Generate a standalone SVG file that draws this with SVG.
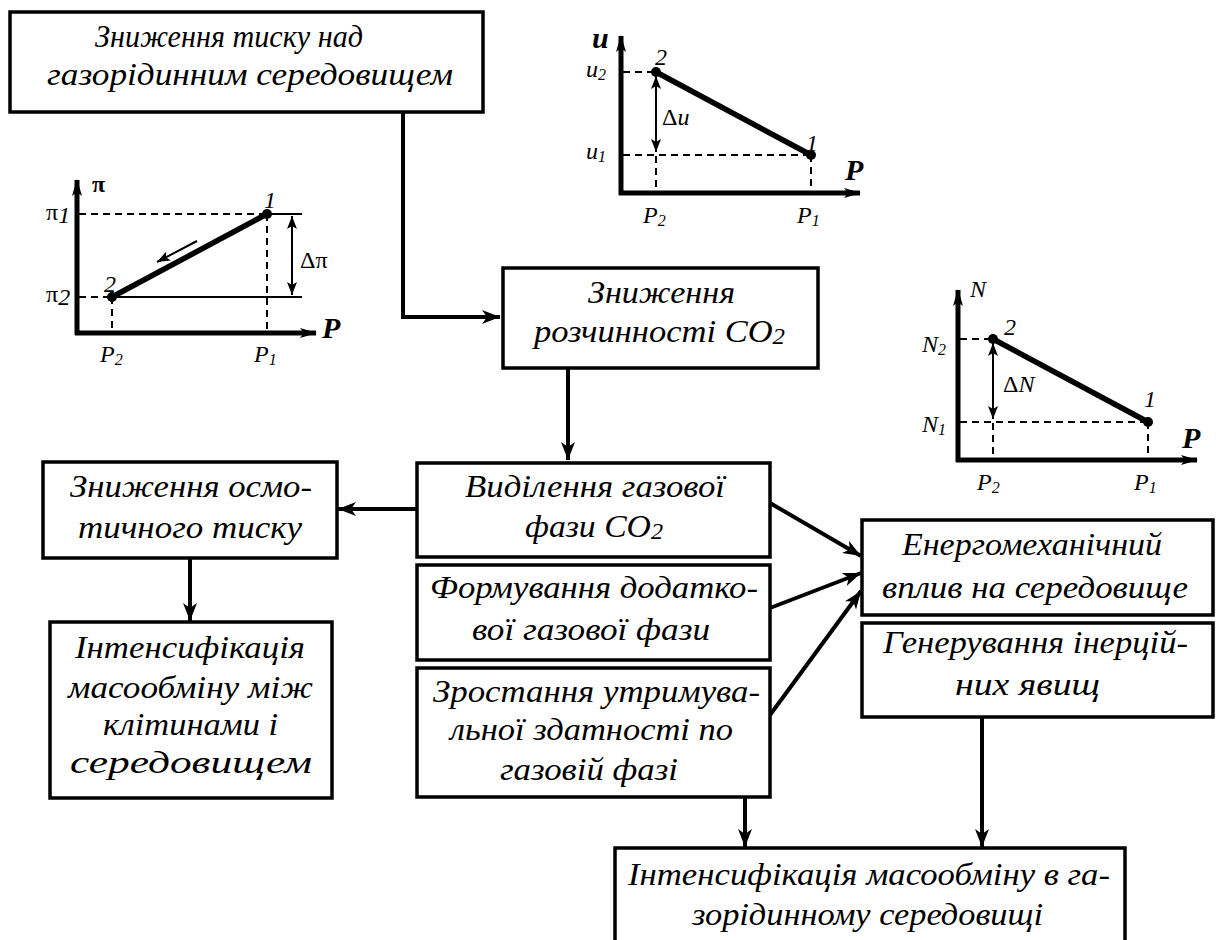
<svg xmlns="http://www.w3.org/2000/svg" width="1221" height="940" viewBox="0 0 1221 940" font-family="Liberation Serif, serif">
<defs>
<style>
.box{fill:#fff;stroke:#000;stroke-width:3.5}
.t{font-style:italic;font-size:32px;fill:#000}
.c{stroke:#000;stroke-width:4;fill:none}
.ax{stroke:#000;stroke-width:5;fill:none}
.dash{stroke:#000;stroke-width:2;stroke-dasharray:7,5;fill:none}
.thin{stroke:#000;stroke-width:2;fill:none}
.thick{stroke:#000;stroke-width:5.5;fill:none}
.lab{font-style:italic;font-size:24px;fill:#000}
.up{font-size:24px;fill:#000}
.bp{font-style:italic;font-weight:bold;font-size:30px;fill:#000}
</style>
<marker id="ah" markerUnits="userSpaceOnUse" markerWidth="20" markerHeight="14" refX="18" refY="7" orient="auto">
<path d="M0,0 L18,7 L0,14 L5,7 Z" fill="#000"/>
</marker>
<marker id="sa" markerUnits="userSpaceOnUse" markerWidth="14" markerHeight="10" refX="13" refY="5" orient="auto-start-reverse">
<path d="M0,0 L13,5 L0,10 L3,5 Z" fill="#000"/>
</marker>
<marker id="axh" markerUnits="userSpaceOnUse" markerWidth="18" markerHeight="10" refX="16" refY="5" orient="auto">
<path d="M0,0 L17,5 L0,10 L4,5 Z" fill="#000"/>
</marker>
</defs>
<rect width="1221" height="940" fill="#fff"/>

<g id="connectors">
<polyline class="c" points="403,112 403,317 500,317" marker-end="url(#ah)"/>
<line class="c" x1="568" y1="368" x2="568" y2="460" marker-end="url(#ah)"/>
<line class="c" x1="417" y1="509" x2="338" y2="509" marker-end="url(#ah)"/>
<line class="c" x1="190" y1="558" x2="190" y2="621" marker-end="url(#ah)"/>
<line class="c" x1="770" y1="503" x2="861" y2="556" marker-end="url(#ah)"/>
<line class="c" x1="770" y1="608" x2="861" y2="573" marker-end="url(#ah)"/>
<line class="c" x1="770" y1="715" x2="861" y2="591" marker-end="url(#ah)"/>
<line class="c" x1="745" y1="797" x2="745" y2="847" marker-end="url(#ah)"/>
<line class="c" x1="982" y1="717" x2="982" y2="847" marker-end="url(#ah)"/>
</g>

<g id="n1">
<rect class="box" x="10" y="12" width="473" height="100"/>
<text class="t" x="95" y="47" textLength="268" lengthAdjust="spacingAndGlyphs">Зниження тиску над</text>
<text class="t" x="47" y="85" textLength="406" lengthAdjust="spacingAndGlyphs">газорідинним середовищем</text>
</g>

<g id="n2">
<rect class="box" x="503" y="268" width="315" height="100"/>
<text class="t" x="588" y="303" textLength="147" lengthAdjust="spacingAndGlyphs">Зниження</text>
<text class="t" x="534" y="342" textLength="251" lengthAdjust="spacingAndGlyphs">розчинності CO<tspan font-size="23" dy="2">2</tspan></text>
</g>

<g id="n3">
<rect class="box" x="417" y="463" width="353" height="94"/>
<text class="t" x="465" y="497" textLength="260" lengthAdjust="spacingAndGlyphs">Виділення газової</text>
<text class="t" x="525" y="537" textLength="138" lengthAdjust="spacingAndGlyphs">фази CO<tspan font-size="23" dy="2">2</tspan></text>
</g>

<g id="n4">
<rect class="box" x="417" y="565" width="353" height="95"/>
<text class="t" x="430" y="598" textLength="328" lengthAdjust="spacingAndGlyphs">Формування додатко-</text>
<text class="t" x="472" y="640" textLength="238" lengthAdjust="spacingAndGlyphs">вої газової фази</text>
</g>

<g id="n5">
<rect class="box" x="417" y="668" width="353" height="129"/>
<text class="t" x="433" y="702" textLength="327" lengthAdjust="spacingAndGlyphs">Зростання утримува-</text>
<text class="t" x="450" y="740" textLength="283" lengthAdjust="spacingAndGlyphs">льної здатності по</text>
<text class="t" x="500" y="780" textLength="178" lengthAdjust="spacingAndGlyphs">газовій фазі</text>
</g>

<g id="n6">
<rect class="box" x="43" y="462" width="294" height="96"/>
<text class="t" x="70" y="497" textLength="242" lengthAdjust="spacingAndGlyphs">Зниження осмо-</text>
<text class="t" x="78" y="538" textLength="224" lengthAdjust="spacingAndGlyphs">тичного тиску</text>
</g>

<g id="n7">
<rect class="box" x="50" y="622" width="282" height="176"/>
<text class="t" x="75" y="658" textLength="230" lengthAdjust="spacingAndGlyphs">Інтенсифікація</text>
<text class="t" x="68" y="698" textLength="245" lengthAdjust="spacingAndGlyphs">масообміну між</text>
<text class="t" x="103" y="735" textLength="175" lengthAdjust="spacingAndGlyphs">клітинами і</text>
<text class="t" x="70" y="773" textLength="242" lengthAdjust="spacingAndGlyphs">середовищем</text>
</g>

<g id="n8">
<rect class="box" x="862" y="520" width="351" height="95"/>
<text class="t" x="902" y="555" textLength="260" lengthAdjust="spacingAndGlyphs">Енергомеханічний</text>
<text class="t" x="882" y="598" textLength="306" lengthAdjust="spacingAndGlyphs">вплив на середовище</text>
</g>

<g id="n9">
<rect class="box" x="862" y="623" width="351" height="94"/>
<text class="t" x="883" y="653" textLength="305" lengthAdjust="spacingAndGlyphs">Генерування інерцій-</text>
<text class="t" x="955" y="695" textLength="145" lengthAdjust="spacingAndGlyphs">них явищ</text>
</g>

<g id="n10">
<rect class="box" x="615" y="848" width="510" height="120"/>
<text class="t" x="628" y="885" textLength="482" lengthAdjust="spacingAndGlyphs">Інтенсифікація масообміну в га-</text>
<text class="t" x="692" y="925" textLength="351" lengthAdjust="spacingAndGlyphs">зорідинному середовищі</text>
</g>

<g id="chart-pi">
<line class="ax" x1="77" y1="335" x2="77" y2="180" marker-end="url(#axh)"/>
<line class="ax" x1="75" y1="333" x2="316" y2="333" marker-end="url(#axh)"/>
<line class="dash" x1="79" y1="214" x2="267" y2="214"/>
<line class="thin" x1="267" y1="214" x2="302" y2="214"/>
<line class="dash" x1="79" y1="297" x2="112" y2="297"/>
<line class="thin" x1="112" y1="297" x2="302" y2="297"/>
<line class="dash" x1="267" y1="214" x2="267" y2="331"/>
<line class="dash" x1="112" y1="297" x2="112" y2="331"/>
<line class="thick" x1="112" y1="297" x2="267" y2="214"/>
<circle cx="112" cy="297" r="5"/>
<circle cx="267" cy="214" r="5"/>
<line class="thin" x1="197" y1="241" x2="157" y2="262" stroke-width="3" marker-end="url(#sa)"/>
<line class="thin" x1="292" y1="216" x2="292" y2="295" stroke-width="3" marker-start="url(#sa)" marker-end="url(#sa)"/>
<text class="up" x="92" y="192" font-weight="bold">π</text>
<text class="bp" x="322" y="338">P</text>
<text class="up" x="46" y="220">π<tspan class="lab" font-size="16" dy="3">1</tspan></text>
<text class="up" x="46" y="302">π<tspan class="lab" font-size="16" dy="3">2</tspan></text>
<text class="lab" x="264" y="208">1</text>
<text class="lab" x="104" y="292">2</text>
<text class="up" x="300" y="268">Δπ</text>
<text class="lab" x="100" y="362">P<tspan font-size="16" dy="3">2</tspan></text>
<text class="lab" x="254" y="362">P<tspan font-size="16" dy="3">1</tspan></text>
</g>

<g id="chart-u">
<line class="ax" x1="621" y1="195" x2="621" y2="36" marker-end="url(#axh)"/>
<line class="ax" x1="619" y1="193" x2="860" y2="193" marker-end="url(#axh)"/>
<line class="dash" x1="623" y1="72" x2="656" y2="72"/>
<line class="dash" x1="623" y1="155" x2="811" y2="155"/>
<line class="dash" x1="656" y1="72" x2="656" y2="191"/>
<line class="dash" x1="811" y1="155" x2="811" y2="191"/>
<line class="thick" x1="656" y1="72" x2="811" y2="155"/>
<circle cx="656" cy="72" r="5"/>
<circle cx="811" cy="155" r="5"/>
<line class="thin" x1="656" y1="76" x2="656" y2="152" stroke-width="3" marker-start="url(#sa)" marker-end="url(#sa)"/>
<text class="bp" x="592" y="48" font-size="26">u</text>
<text class="bp" x="845" y="180">P</text>
<text class="lab" x="586" y="77">u<tspan font-size="16" dy="3">2</tspan></text>
<text class="lab" x="586" y="159">u<tspan font-size="16" dy="3">1</tspan></text>
<text class="lab" x="655" y="65">2</text>
<text class="lab" x="806" y="151">1</text>
<text class="up" x="662" y="125">Δ<tspan class="lab">u</tspan></text>
<text class="lab" x="643" y="223">P<tspan font-size="16" dy="3">2</tspan></text>
<text class="lab" x="797" y="223">P<tspan font-size="16" dy="3">1</tspan></text>
</g>

<g id="chart-n">
<line class="ax" x1="958" y1="462" x2="958" y2="290" marker-end="url(#axh)"/>
<line class="ax" x1="956" y1="460" x2="1197" y2="460" marker-end="url(#axh)"/>
<line class="dash" x1="960" y1="339" x2="993" y2="339"/>
<line class="dash" x1="960" y1="422" x2="1148" y2="422"/>
<line class="dash" x1="993" y1="339" x2="993" y2="458"/>
<line class="dash" x1="1148" y1="422" x2="1148" y2="458"/>
<line class="thick" x1="993" y1="339" x2="1148" y2="422"/>
<circle cx="993" cy="339" r="5"/>
<circle cx="1148" cy="422" r="5"/>
<line class="thin" x1="993" y1="343" x2="993" y2="419" stroke-width="3" marker-start="url(#sa)" marker-end="url(#sa)"/>
<text class="lab" x="970" y="297" font-size="28">N</text>
<text class="bp" x="1182" y="448">P</text>
<text class="lab" x="922" y="352">N<tspan font-size="16" dy="3">2</tspan></text>
<text class="lab" x="922" y="432">N<tspan font-size="16" dy="3">1</tspan></text>
<text class="lab" x="1004" y="335">2</text>
<text class="lab" x="1144" y="407">1</text>
<text class="up" x="1003" y="392">Δ<tspan class="lab">N</tspan></text>
<text class="lab" x="977" y="490">P<tspan font-size="16" dy="3">2</tspan></text>
<text class="lab" x="1134" y="490">P<tspan font-size="16" dy="3">1</tspan></text>
</g>
</svg>
